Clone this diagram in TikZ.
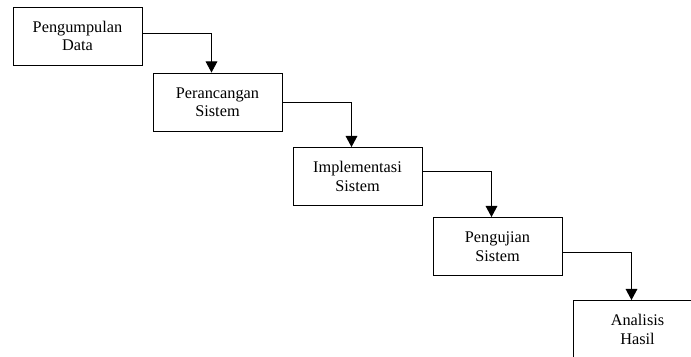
\documentclass[tikz,border=0pt]{standalone}
\usepackage{fontspec}
\setmainfont{Liberation Serif}
\usetikzlibrary{arrows.meta}

\begin{document}
\begin{tikzpicture}[x=0.03cm, y=-0.03cm,
    stage/.style={draw, line width=0.8pt, minimum width=3.87cm, minimum height=1.74cm,
      align=center, inner sep=0pt, font=\fontsize{13.9}{15.7}\selectfont},
    flow/.style={line width=0.8pt, -{Triangle[width=10pt,length=9.5pt]}}]
    \clip (0,0) rectangle (691,356);
    \node[stage] (data) at (77.5,36) {Pengumpulan\\Data};
    \node[stage] (rancang) at (217.5,102) {Perancangan\\Sistem};
    \node[stage] (implementasi) at (357.5,176.5) {Implementasi\\Sistem};
    \node[stage] (uji) at (497.5,246.5) {Pengujian\\Sistem};
    \node[stage] (analisis) at (637.5,329.5) {Analisis\\Hasil};
    \draw[flow] ([yshift=0.09cm]data.east) -| ([xshift=-0.18cm]rancang.north);
    \draw[flow] (rancang.east) -| ([xshift=-0.18cm]implementasi.north);
    \draw[flow] ([yshift=0.165cm]implementasi.east) -| ([xshift=-0.18cm]uji.north);
    \draw[flow] ([yshift=-0.165cm]uji.east) -| ([xshift=-0.18cm]analisis.north);
  \end{tikzpicture}
\end{document}
